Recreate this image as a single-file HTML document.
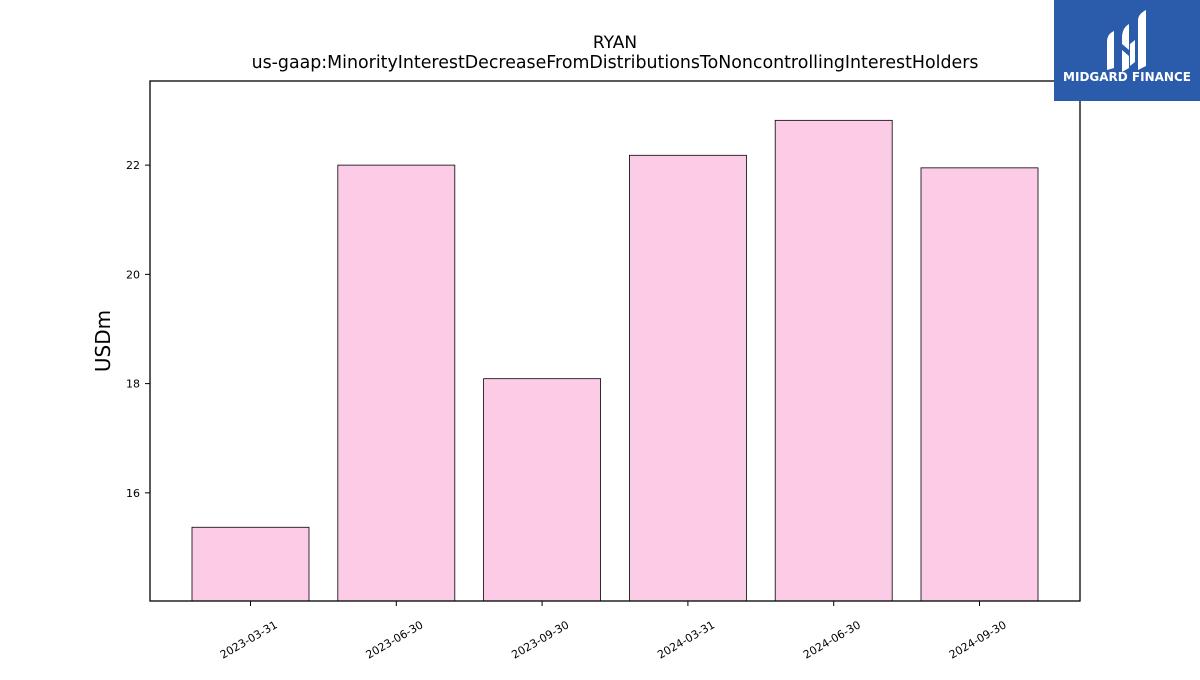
<!DOCTYPE html>
<html><head><meta charset="utf-8"><style>
body{margin:0;background:#fff;}
svg text{font-family:"DejaVu Sans","Liberation Sans",sans-serif;}
</style></head><body>
<svg width="1200" height="675" xmlns="http://www.w3.org/2000/svg">
<rect width="1200" height="675" fill="#fff"/>
<text x="615" y="48" text-anchor="middle" font-size="17">RYAN</text>
<text x="615" y="68" text-anchor="middle" font-size="17.4">us-gaap:MinorityInterestDecreaseFromDistributionsToNoncontrollingInterestHolders</text>
<text transform="translate(110,341) rotate(-90)" text-anchor="middle" font-size="20">USDm</text>
<g id="bars"></g>
<g id="yticks"></g>
<g id="xticks"></g>
<rect x="150" y="81" width="930" height="520" fill="none" stroke="#000" stroke-width="1.3"/>
<g>
<rect x="1054" y="0" width="146" height="101" fill="#2b5bab"/>
<path d="M1107,42 Q1107,34 1114,31 L1114,68 L1107,70 Z M1122,38 Q1122,28 1129,24 L1129,50 L1122,44 Z M1122,50 L1129,56 L1129,68 L1122,72 Z M1130,44 L1135,40 L1135,62 L1130,66 Z M1138,20 Q1138,14 1146,10 L1146,66 L1138,70 Z" fill="#fff"/>
<text x="1127" y="81" text-anchor="middle" font-size="12" font-weight="bold" fill="#fff">MIDGARD FINANCE</text>
</g>
</svg>
<script>
const categories=["2023-03-31","2023-06-30","2023-09-30","2024-03-31","2024-06-30","2024-09-30"];
const values=[15.37,22.0,18.09,22.18,22.82,21.95];
const yTicks=[16,18,20,22];
const NS="http://www.w3.org/2000/svg";
const yMin=14.02,yMax=23.54,plotTop=81,plotBot=601,plotLeft=150;
function yScale(v){return plotBot-(v-yMin)/(yMax-yMin)*(plotBot-plotTop);}
const step=145.8,x0=250.5,bw=117;
function xScale(i){return x0+i*step;}
const bars=document.getElementById('bars'),yt=document.getElementById('yticks'),xt=document.getElementById('xticks');
values.forEach((v,i)=>{
 const r=document.createElementNS(NS,'rect');
 
 
 r.setAttribute('x',xScale(i)-bw/2);r.setAttribute('y',yScale(v));r.setAttribute('width',bw);r.setAttribute('height',plotBot-yScale(v));
 r.setAttribute('fill','#fccce6');r.setAttribute('stroke','#000');r.setAttribute('stroke-width','0.8');
 bars.appendChild(r);
});
yTicks.forEach(t=>{
 const l=document.createElementNS(NS,'line');
 
 
 l.setAttribute('x1',plotLeft-5);l.setAttribute('x2',plotLeft);l.setAttribute('y1',yScale(t));l.setAttribute('y2',yScale(t));l.setAttribute('stroke','#000');
 yt.appendChild(l);
 const tx=document.createElementNS(NS,'text');
 
 
 tx.setAttribute('x',plotLeft-10);tx.setAttribute('y',yScale(t)+4);tx.setAttribute('text-anchor','end');tx.setAttribute('font-size','11');
 tx.textContent=t;yt.appendChild(tx);
});
categories.forEach((c,i)=>{
 const l=document.createElementNS(NS,'line');
 
 
 l.setAttribute('x1',xScale(i));l.setAttribute('x2',xScale(i));l.setAttribute('y1',plotBot);l.setAttribute('y2',plotBot+5);l.setAttribute('stroke','#000');
 xt.appendChild(l);
 const tx=document.createElementNS(NS,'text');
 
 
 tx.setAttribute('transform','translate('+xScale(i)+',643) rotate(-30)');
 tx.setAttribute('text-anchor','middle');tx.setAttribute('font-size','11');
 tx.textContent=c;xt.appendChild(tx);
});
</script>
</body></html>
